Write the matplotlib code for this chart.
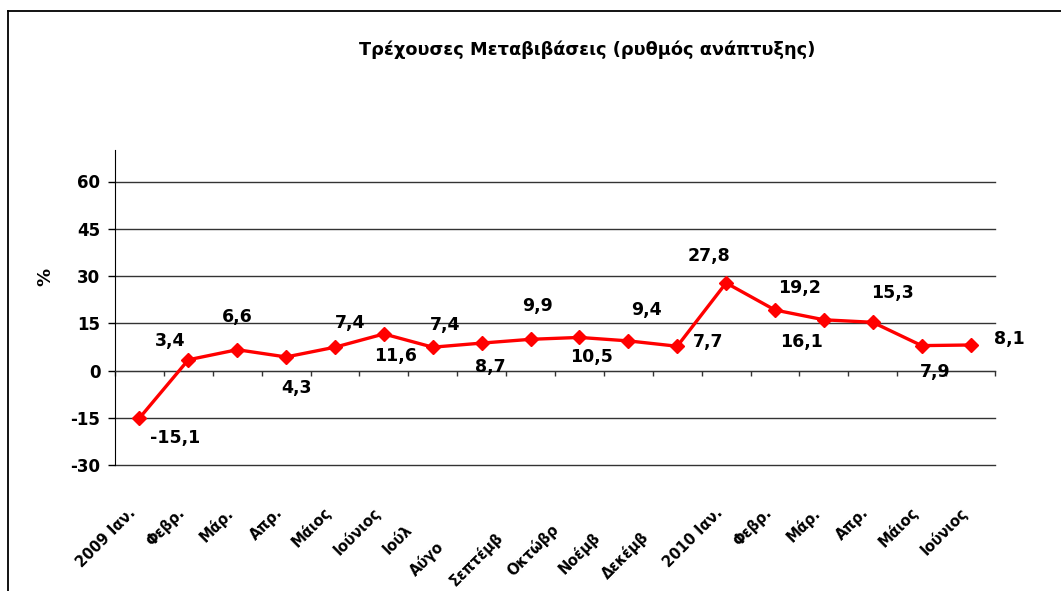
import matplotlib
matplotlib.use('Agg')
import matplotlib.pyplot as plt
from matplotlib.lines import Line2D
import numpy as np

# monthly growth rate, current transfers (%)
values = [-15.1, 3.4, 6.6, 4.3, 7.4, 11.6, 7.4, 8.7, 9.9, 10.5, 9.4, 7.7,
          27.8, 19.2, 16.1, 15.3, 7.9, 8.1]
full_labels = ['2009 Ιαν.', 'Φεβρ.', 'Μάρ.', 'Απρ.', 'Μάιος', 'Ιούνιος', 'Ιούλιος',
               'Αύγουστος', 'Σεπτέμβριος', 'Οκτώβριος', 'Νοέμβριος', 'Δεκέμβριος',
               '2010 Ιαν.', 'Φεβρ.', 'Μάρ.', 'Απρ.', 'Μάιος', 'Ιούνιος']
shown_labels = ['2009 Ιαν.', 'Φεβρ.', 'Μάρ.', 'Απρ.', 'Μάιος', 'Ιούνιος', 'Ιούλ',
                'Αύγο', 'Σεπτέμβ', 'Οκτώβρ', 'Νοέμβ', 'Δεκέμβ',
                '2010 Ιαν.', 'Φεβρ.', 'Μάρ.', 'Απρ.', 'Μάιος', 'Ιούνιος']
yticks = [-30, -15, 0, 15, 30, 45, 60]
title = 'Τρέχουσες Μεταβιβάσεις (ρυθμός ανάπτυξης)'

# where each value label sits relative to its marker (pixels, right / down)
label_offsets = [(36, 20), (-18, -19), (0, -33), (10, 31), (15, -24), (12, 22),
                 (12, -22), (9, 24), (7, -33), (12, 20), (18, -31), (31, -4),
                 (-17, -27), (25, -22), (-22, 22), (20, -29), (14, 26), (39, -6)]

W, H = 1061, 591
fig = plt.figure(figsize=(W / 100, H / 100), dpi=100)
fig.patch.set_facecolor('white')

# outer chart border (top and left edges visible)
fig.add_artist(Line2D([8 / W, 8 / W], [0, 1 - 11 / H], transform=fig.transFigure,
                      color='black', lw=1.3))
fig.add_artist(Line2D([8 / W, 1], [1 - 11 / H, 1 - 11 / H], transform=fig.transFigure,
                      color='black', lw=1.3))

ax = fig.add_axes([115 / W, 126 / H, 880 / W, 315 / H])
x = np.arange(len(values))

ax.set_xlim(-0.5, len(values) - 0.5)
ax.set_ylim(-30, 70)
ax.set_yticks(yticks)
ax.set_yticklabels([str(t) for t in yticks], fontsize=12, fontweight='bold')
ax.tick_params(axis='y', direction='out', length=5, width=1, pad=5.5)
ax.yaxis.grid(True, color='#333333', lw=1)
for gl in ax.get_ygridlines():
    gl.set_clip_on(False)
ax.set_axisbelow(True)

ax.spines['top'].set_visible(False)
ax.spines['right'].set_visible(False)
ax.spines['left'].set_bounds(-30, 70)
ax.spines['bottom'].set_position(('data', 0))
ax.spines['bottom'].set_color('#333333')
ax.set_xticks(np.arange(len(values) + 1) - 0.5)
ax.set_xticklabels([])
ax.tick_params(axis='x', direction='out', length=3.6, width=1, color='#333333')

ax.plot(x, values, color='#FF0000', lw=2.4, marker='D', markersize=7.5,
        markerfacecolor='#FF0000', markeredgecolor='#FF0000', zorder=3)

for i, v in enumerate(values):
    dx, dy = label_offsets[i]
    ax.annotate(f'{v:.1f}'.replace('.', ','), (i, v), xytext=(dx, -dy),
                textcoords='offset pixels', ha='center', va='center',
                fontsize=12.5, fontweight='bold', zorder=4)

fig.text(587 / W, 1 - 50 / H, title, ha='center', va='center',
         fontsize=12.8, fontweight='bold')
fig.text(45 / W, 1 - 277 / H, '%', ha='center', va='center', rotation=90,
         fontsize=13, fontweight='bold')

# rotated category labels; cut-off ones keep the start of the full label
renderer = fig.canvas.get_renderer()
inv = fig.transFigure.inverted()
c45 = np.cos(np.radians(45))
for i in range(len(values)):
    px, py = ax.transData.transform((i, -30))
    ax_x, ax_y = px - 6, py - 45
    tmp = fig.text(0, 0, full_labels[i], fontsize=10.5, fontweight='bold')
    wfull = tmp.get_window_extent(renderer).width
    tmp.remove()
    sx, sy = ax_x - wfull * c45, ax_y - wfull * c45
    fx, fy = inv.transform((sx, sy))
    fig.text(fx, fy, shown_labels[i], ha='left', va='center', rotation=45,
             rotation_mode='anchor', fontsize=10.5, fontweight='bold')

fig.savefig('out.png', dpi=100)
